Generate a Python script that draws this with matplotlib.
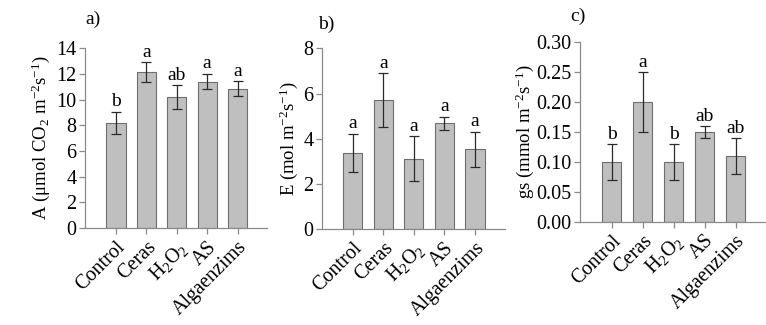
import matplotlib
matplotlib.use("Agg")
import matplotlib.pyplot as plt
import numpy as np

plt.rcParams['font.family'] = ['Liberation Serif', 'DejaVu Serif']
plt.rcParams['mathtext.fontset'] = 'custom'
plt.rcParams['mathtext.rm'] = 'Liberation Serif'
plt.rcParams['mathtext.it'] = 'Liberation Serif:italic'

categories = ['Control', 'Ceras', r'H$_\mathrm{2}$O$_\mathrm{2}$', 'AS', 'Algaenzims']

A_vals = [8.17, 12.15, 10.18, 11.40, 10.85]
A_err = [0.88, 0.75, 0.93, 0.60, 0.57]
A_letters = ['b', 'a', 'ab', 'a', 'a']

E_vals = [3.39, 5.70, 3.11, 4.68, 3.53]
E_err = [0.84, 1.20, 1.00, 0.30, 0.78]
E_letters = ['a', 'a', 'a', 'a', 'a']

gs_vals = [0.10, 0.20, 0.10, 0.15, 0.11]
gs_err = [0.03, 0.05, 0.03, 0.01, 0.03]
gs_letters = ['b', 'a', 'b', 'ab', 'ab']

panels = [
    dict(vals=A_vals, err=A_err, letters=A_letters, ylim=(0, 14), yticks=np.arange(0, 15, 2),
         fmt='{:.0f}', ylabel=r'A ($\mathrm{\mu}$mol CO$_\mathrm{2}$ m$^{\mathrm{-2}}$s$^{\mathrm{-1}}$)',
         tag='a)', rect=[0.111, 0.298, 0.238, 0.554], off=0.35, tagxy=(0.111, 0.94), lpad=3),
    dict(vals=E_vals, err=E_err, letters=E_letters, ylim=(0, 8), yticks=np.arange(0, 9, 2),
         fmt='{:.0f}', ylabel=r'E (mol m$^{\mathrm{-2}}$s$^{\mathrm{-1}}$)',
         tag='b)', rect=[0.420, 0.295, 0.239, 0.556], off=0.2, tagxy=(0.415, 0.925), lpad=2),
    dict(vals=gs_vals, err=gs_err, letters=gs_letters, ylim=(0, 0.30), yticks=np.arange(0, 0.31, 0.05),
         fmt='{:.2f}', ylabel=r'gs (mmol m$^{\mathrm{-2}}$s$^{\mathrm{-1}}$)',
         tag='c)', rect=[0.757, 0.318, 0.243, 0.552], off=0.0075, tagxy=(0.745, 0.95), lpad=0),
]

fig = plt.figure(figsize=(7.66, 3.25), dpi=100)
axis_col = '#8a8a8a'
x = np.arange(len(categories))
for p in panels:
    ax = fig.add_axes(p['rect'])
    ax.bar(x, p['vals'], width=0.63, color='#bfbfbf', edgecolor='#6e6e6e', linewidth=0.8, zorder=2)
    ax.errorbar(x, p['vals'], yerr=p['err'], fmt='none', ecolor='#2a2a2a', elinewidth=0.9,
                capsize=3.5, capthick=0.9, zorder=3)
    for xi, v, e, l in zip(x, p['vals'], p['err'], p['letters']):
        ax.text(xi, v + e + p['off'] * 0.3, l, ha='center', va='bottom', fontsize=14)
    ax.set_xlim(-1.02, 4.98)
    ax.set_ylim(*p['ylim'])
    ax.set_yticks(p['yticks'])
    ax.set_yticklabels([p['fmt'].format(t) for t in p['yticks']], fontsize=14.5)
    ax.set_xticks(x)
    ax.set_xticklabels(categories, rotation=45, ha='right', rotation_mode='anchor', fontsize=14.5)
    for s in ['top', 'right']:
        ax.spines[s].set_visible(False)
    for s in ['left', 'bottom']:
        ax.spines[s].set_color(axis_col)
        ax.spines[s].set_linewidth(0.9)
    ax.tick_params(axis='both', colors=axis_col, length=4, width=0.9, labelcolor='black')
    ax.tick_params(axis='x', pad=3)
    ax.tick_params(axis='y', pad=2)
    ax.set_ylabel(p['ylabel'], fontsize=13.5, labelpad=p['lpad'])
    fig.text(p['tagxy'][0], p['tagxy'][1], p['tag'], fontsize=14, ha='left', va='center')

fig.savefig('out.png', dpi=100)
